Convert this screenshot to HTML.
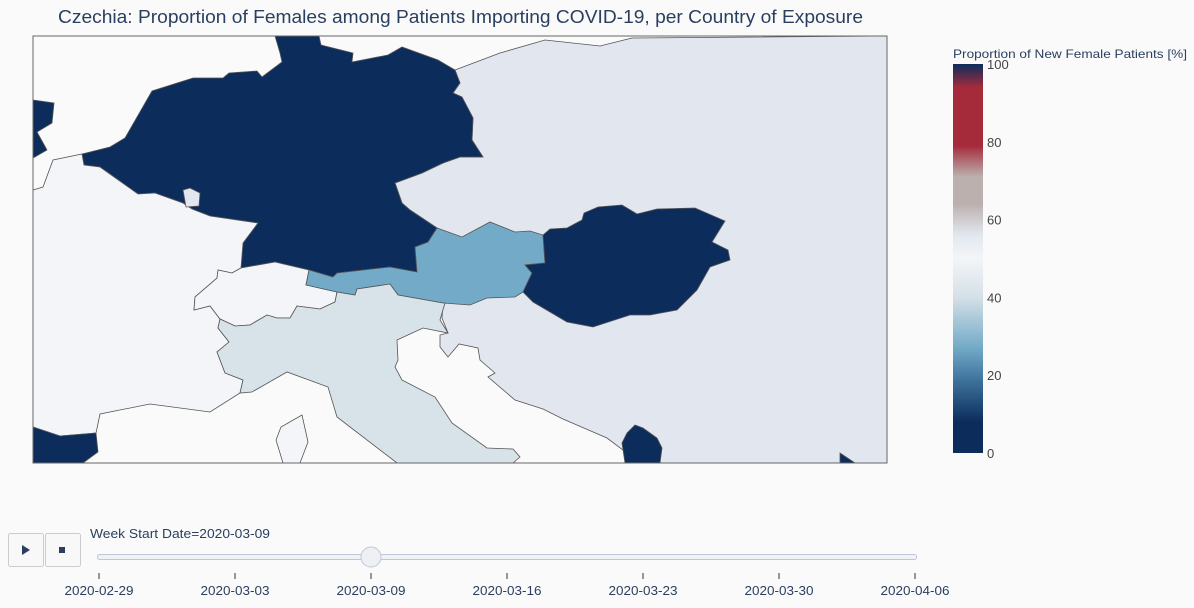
<!DOCTYPE html>
<html><head><meta charset="utf-8"><style>
body{margin:0;background:#fafafa;width:1194px;height:608px;overflow:hidden;font-family:"Liberation Sans","DejaVu Sans",sans-serif;}
svg{display:block}
</style></head><body>
<svg width="1194" height="608" xmlns="http://www.w3.org/2000/svg">
<rect width="1194" height="608" fill="#fafafa"/>
<text x="58" y="23" font-size="18" textLength="805" lengthAdjust="spacingAndGlyphs" fill="#2a3f5f">Czechia: Proportion of Females among Patients Importing COVID-19, per Country of Exposure</text>
<g id="map"></g>
<rect x="33" y="36" width="854" height="427" fill="none" stroke="#666" stroke-width="1"/>
<g id="cbar"></g>
<g id="slider"></g>
</svg>
<script>
const countries=['east','germany','belgium','france','spain','luxembourg','switzerland','austria','hungary','italy','corsica','greece','south-bit'];
const values=[56,0,0,50,0,56,50,27,0,41,50,0,0];
const stops=[[0,'#0c2d5c'],[0.08,'#0c2d5c'],[0.18,'#3a6e98'],[0.27,'#72aac8'],[0.4,'#d4e0e7'],[0.5,'#f4f5f8'],[0.56,'#e2e7ef'],[0.64,'#bcb0ae'],[0.71,'#bcb0ae'],[0.79,'#a52b3b'],[0.94,'#a52b3b'],[1,'#0c2d5c']];
const cbTicks=[0,20,40,60,80,100];
const dates=['2020-02-29','2020-03-03','2020-03-09','2020-03-16','2020-03-23','2020-03-30','2020-04-06'];
const activeIndex=2;
const shapes={
east:"455,70 500,53 545,40 600,46 632,38 887,36 887,463 625,463 627,453 607,438 563,419 543,409 515,400 488,377 495,373 480,360 478,348 459,344 448,357 440,347 440,335 448,333 442,318 443,303 437,228 410,210 402,203 395,183 422,173 443,163 460,157 483,157 472,140 473,118 462,97 453,93 460,83",
germany:"275,36 280,53 282,62 262,77 257,71 229,73 223,78 193,78 152,91 125,138 110,147 82,154 84,165 100,167 138,194 155,193 183,203 192,209 210,216 258,223 243,243 241,268 275,262 309,270 333,277 337,273 390,267 417,272 415,247 428,242 437,228 410,210 402,203 395,183 422,173 443,163 460,157 483,157 472,140 473,118 462,97 453,93 460,83 455,70 438,60 402,47 388,55 352,62 353,53 321,45 319,36",
belgium:"33,100 54,103 52,123 37,132 47,150 33,158",
france:"33,190 43,187 53,160 82,154 84,165 100,167 138,194 155,193 183,203 192,209 210,216 258,223 243,243 241,268 232,273 218,270 217,278 195,297 194,310 210,306 220,319 218,328 229,342 217,352 225,373 243,380 240,393 210,412 150,404 100,414 96,433 60,436 33,427",
spain:"33,427 60,436 96,433 98,452 83,463 33,463",
luxembourg:"183,190 190,188 200,193 199,206 186,207",
switzerland:"241,268 275,262 309,270 306,285 337,292 335,302 320,309 297,306 290,318 277,318 267,315 250,325 235,326 220,319 210,306 194,310 195,297 217,278 218,270 232,273",
austria:"306,285 309,270 333,277 337,273 390,267 417,272 415,247 428,242 437,228 462,237 490,222 515,232 530,231 543,235 545,263 525,265 532,273 523,292 515,297 487,298 470,305 443,303 398,295 390,284 357,289 355,295 337,292",
hungary:"543,235 550,229 567,228 582,220 584,213 598,207 622,205 637,214 657,209 695,208 725,221 712,242 728,250 730,260 710,267 697,290 677,310 650,315 630,315 593,327 567,322 533,302 523,292 532,273 525,265 545,263",
italy:"337,292 355,295 357,289 390,284 398,295 443,303 445,303 440,320 448,333 423,328 397,340 398,360 395,367 402,380 435,397 452,423 487,448 513,449 520,457 513,463 397,463 337,417 328,387 287,372 252,392 240,393 243,380 225,373 217,352 229,342 218,328 220,319 235,326 250,325 267,315 277,318 290,318 297,306 320,309 335,302",
corsica:"302,415 308,442 300,463 283,463 276,440 281,427",
greece:"635,425 643,428 657,438 662,448 660,463 625,463 622,443 627,433",
"south-bit":"840,453 855,463 840,463"
};
function hex(c){return [1,3,5].map(i=>parseInt(c.substr(i,2),16));}
function colorFor(v){const t=Math.max(0,Math.min(1,v/100));
 for(let i=1;i<stops.length;i++){if(t<=stops[i][0]){const a=stops[i-1],b=stops[i];const f=(t-a[0])/((b[0]-a[0])||1);
 const ca=hex(a[1]),cb=hex(b[1]);return 'rgb('+ca.map((x,k)=>Math.round(x+(cb[k]-x)*f)).join(',')+')';}}
 return stops[stops.length-1][1];}
const NS='http://www.w3.org/2000/svg';
const map=document.getElementById('map');
countries.forEach((c,i)=>{const p=document.createElementNS(NS,'polygon');
 p.setAttribute('points',shapes[c]);p.setAttribute('fill',colorFor(values[i]));
 p.setAttribute('stroke','#555');p.setAttribute('stroke-width','0.8');
 
 
 map.appendChild(p);});
const cb=document.getElementById('cbar');
const cbX=953,cbY=64,cbW=30,cbH=389;
const defs=document.createElementNS(NS,'defs');
const lg=document.createElementNS(NS,'linearGradient');lg.setAttribute('id','cg');lg.setAttribute('x1','0');lg.setAttribute('y1','1');lg.setAttribute('x2','0');lg.setAttribute('y2','0');
stops.forEach(s=>{const st=document.createElementNS(NS,'stop');st.setAttribute('offset',s[0]);st.setAttribute('stop-color',s[1]);lg.appendChild(st);});
defs.appendChild(lg);cb.appendChild(defs);
const r=document.createElementNS(NS,'rect');r.setAttribute('x',cbX);r.setAttribute('y',cbY);r.setAttribute('width',cbW);r.setAttribute('height',cbH);r.setAttribute('fill','url(#cg)');


cb.appendChild(r);
const ct=document.createElementNS(NS,'text');ct.setAttribute('x',953);ct.setAttribute('y',58);ct.setAttribute('font-size','12');ct.setAttribute('textLength','234');ct.setAttribute('lengthAdjust','spacingAndGlyphs');ct.setAttribute('fill','#2a3f5f');ct.textContent='Proportion of New Female Patients [%]';


cb.appendChild(ct);
cbTicks.forEach(v=>{const t=document.createElementNS(NS,'text');t.setAttribute('x',987);t.setAttribute('y',cbY+cbH-v/100*cbH+5);t.setAttribute('font-size','13');t.setAttribute('fill','#444');t.textContent=v;
 
 
 cb.appendChild(t);});
const sl=document.getElementById('slider');
function add(tag,attrs,name,inter,txt){const e=document.createElementNS(NS,tag);for(const k in attrs)e.setAttribute(k,attrs[k]);if(txt!==undefined)e.textContent=txt;
 
 
 sl.appendChild(e);return e;}
add('rect',{x:8.5,y:533.5,width:35,height:33,rx:2,fill:'#f8f8f8',stroke:'#ccc'},'play-button','true');
add('polygon',{points:'22,545 22,555 30,550',fill:'#2a3f5f'},'play-icon','false');
add('rect',{x:45.5,y:533.5,width:35,height:33,rx:2,fill:'#f8f8f8',stroke:'#ccc'},'stop-button','true');
add('rect',{x:59,y:547,width:6,height:6,fill:'#2a3f5f'},'stop-icon','false');
add('text',{x:90,y:538,'font-size':12.5,textLength:180,lengthAdjust:'spacingAndGlyphs',fill:'#2a3f5f'},'slider-current-label','false','Week Start Date='+dates[activeIndex]);
const sx0=99,sx1=915;
add('rect',{x:97.5,y:554.5,width:819,height:5,rx:2,fill:'#f0f2f5',stroke:'#bec8d9'},'slider-rail','true');
dates.forEach((d,i)=>{const x=sx0+(sx1-sx0)*i/(dates.length-1);
 add('line',{x1:x,y1:573,x2:x,y2:579,stroke:'#333','stroke-width':1},'slider-tick-'+d,'false');
 add('text',{x:x,y:595,'text-anchor':'middle','font-size':13,textLength:69,lengthAdjust:'spacingAndGlyphs',fill:'#2a3f5f'},'slider-label-'+d,'true',d);});
const kx=sx0+(sx1-sx0)*activeIndex/(dates.length-1);
add('circle',{cx:kx,cy:557,r:10,fill:'#eef0f4',stroke:'#bec8d9'},'slider-handle','true');
</script>
</body></html>
